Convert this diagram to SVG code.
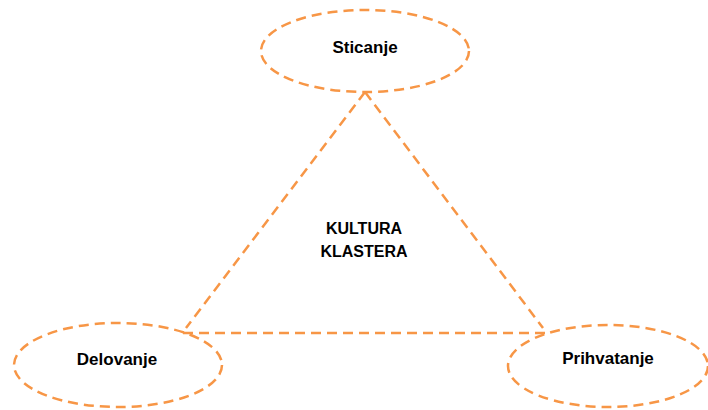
<svg xmlns="http://www.w3.org/2000/svg" width="708" height="410" viewBox="0 0 708 410">
<style>
.d{fill:none;stroke:#F79646;stroke-width:2.5;stroke-dasharray:10,6}
.t{font-family:"Liberation Sans",Arial,sans-serif;font-weight:bold;font-size:17px;fill:#000;text-anchor:middle}
.c{font-size:16px}
</style>
<rect width="708" height="410" fill="#fff"/>
<g id="connectors">
<path class="d" d="M365 92 L186 328"/>
<path class="d" d="M365 92 L543 328"/>
<path class="d" d="M183 333 L548 333"/>
</g>
<g id="center">
<text class="t c" x="364" y="234">KULTURA</text>
<text class="t c" x="364" y="257">KLASTERA</text>
</g>
<g id="sticanje">
<ellipse class="d" cx="365" cy="51" rx="104" ry="41"/>
<text class="t" x="365" y="53">Sticanje</text>
</g>
<g id="delovanje">
<ellipse class="d" cx="118" cy="365" rx="104" ry="42"/>
<text class="t" x="117" y="365">Delovanje</text>
</g>
<g id="prihvatanje">
<ellipse class="d" cx="608" cy="366" rx="100" ry="41"/>
<text class="t" x="608" y="364">Prihvatanje</text>
</g>
</svg>
